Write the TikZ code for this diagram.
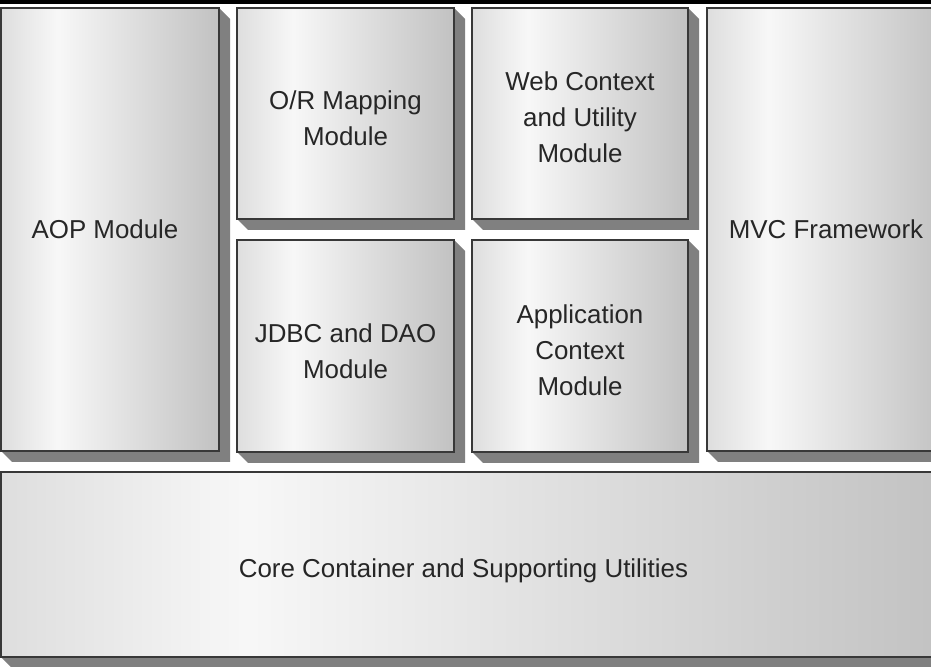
\documentclass[tikz,border=0pt]{standalone}
\usepackage{fontspec}
\setmainfont{Liberation Sans}
\usetikzlibrary{calc,backgrounds}
\definecolor{shA}{gray}{0.87}
\definecolor{shB}{gray}{0.97}
\definecolor{shC}{gray}{0.76}
\definecolor{boxline}{gray}{0.22}
\definecolor{shadowc}{gray}{0.50}
\definecolor{txt}{gray}{0.15}
\pgfdeclarehorizontalshading{boxshade}{100bp}{color(0bp)=(shA); color(25bp)=(shA); color(38bp)=(shB); color(75bp)=(shC); color(100bp)=(shC)}
\newcommand\boxshadow[1]{\fill[shadowc] (#1.north east) -- ++(11,-11) -- ($(#1.south east)+(11,-11)$) -- ($(#1.south west)+(11,-11)$) -- (#1.south west) -- cycle;}
\begin{document}
\begin{tikzpicture}[x=1bp,y=1bp,
  modbox/.style={draw=boxline, line width=1.5bp, shading=boxshade, inner sep=0pt, outer sep=0pt},
  boxtext/.style={font=\fontsize{26}{36}\selectfont, text=txt, align=center, inner sep=0pt}]
\useasboundingbox (0,0) rectangle (931,667);
% boxes
\node[modbox, minimum width=218bp, minimum height=443bp] (aop) at (110,437.5) {};
\node[modbox, minimum width=217bp, minimum height=211bp] (orm) at (345.5,553.5) {};
\node[modbox, minimum width=217bp, minimum height=212bp] (jdbc) at (345.5,321) {};
\node[modbox, minimum width=216bp, minimum height=211bp] (web) at (580,553.5) {};
\node[modbox, minimum width=216bp, minimum height=212bp] (app) at (580,321) {};
\node[modbox, minimum width=238bp, minimum height=443bp] (mvc) at (826,437.5) {};
\node[modbox, minimum width=944bp, minimum height=185bp] (core) at (473,102.5) {};
% shadows and page
\begin{scope}[on background layer]
  \fill[white] (0,0) rectangle (931,667);
  \boxshadow{aop}
  \boxshadow{orm}
  \boxshadow{jdbc}
  \boxshadow{web}
  \boxshadow{app}
  \boxshadow{mvc}
  \boxshadow{core}
\end{scope}
% top rule
\fill[black] (0,663) rectangle (931,667);
% texts
\node[boxtext] (aopT) at ([xshift=-5bp]aop.center) {AOP Module};
\node[boxtext] (ormT) at ([yshift=-5bp]orm.center) {O/R Mapping\\Module};
\node[boxtext] (jdbcT) at ([yshift=-5bp]jdbc.center) {JDBC and DAO\\Module};
\node[boxtext] (webT) at ([yshift=-4bp]web.center) {Web Context\\and Utility\\Module};
\node[boxtext] (appT) at ([yshift=-4bp]app.center) {Application\\Context\\Module};
\node[boxtext] (mvcT) at (mvc.center) {MVC Framework};
\node[boxtext] (coreT) at (463.5,96.5) {Core Container and Supporting Utilities};
\end{tikzpicture}
\end{document}
